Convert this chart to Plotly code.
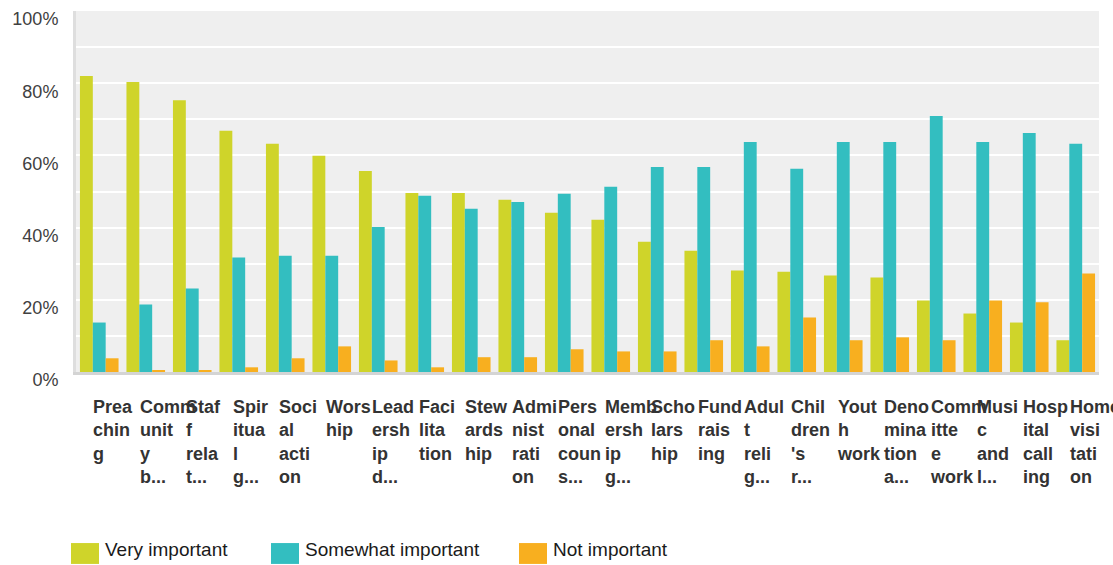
import plotly.graph_objects as go

# Survey topics (as exported, long names truncated)
categories = [
    "Preaching", "Community b...", "Staff relat...", "Spiritual g...",
    "Social action", "Worship", "Leadership d...", "Facilitation",
    "Stewardship", "Administration", "Personal couns...", "Membership g...",
    "Scholarship", "Fundraising", "Adult relig...", "Children's r...",
    "Youth work", "Denomination a...", "Committee work", "Music and l...",
    "Hospital calling", "Home visitation",
]

# Wrapped axis labels (narrow columns, 4 characters per line)
tick_labels = [
    "Prea<br>chin<br>g", "Comm<br>unit<br>y<br>b...", "Staf<br>f<br>rela<br>t...",
    "Spir<br>itua<br>l<br>g...", "Soci<br>al<br>acti<br>on", "Wors<br>hip",
    "Lead<br>ersh<br>ip<br>d...", "Faci<br>lita<br>tion", "Stew<br>ards<br>hip",
    "Admi<br>nist<br>rati<br>on", "Pers<br>onal<br>coun<br>s...",
    "Memb<br>ersh<br>ip<br>g...", "Scho<br>lars<br>hip", "Fund<br>rais<br>ing",
    "Adul<br>t<br>reli<br>g...", "Chil<br>dren<br>'s<br>r...", "Yout<br>h<br>work",
    "Deno<br>mina<br>tion<br>a...", "Comm<br>itte<br>e<br>work",
    "Musi<br>c<br>and<br>l...", "Hosp<br>ital<br>call<br>ing", "Home<br>visi<br>tati<br>on",
]

very_important = [82.0, 80.3, 75.3, 66.8, 63.2, 59.9, 55.7, 49.6, 49.6, 47.7, 44.1,
                  42.2, 36.1, 33.6, 28.1, 27.8, 26.7, 26.2, 19.8, 16.2, 13.7, 8.8]
somewhat_important = [13.7, 18.7, 23.1, 31.7, 32.2, 32.2, 40.2, 48.8, 45.2, 47.1, 49.4,
                      51.3, 56.8, 56.8, 63.7, 56.3, 63.7, 63.7, 70.9, 63.7, 66.2, 63.2]
not_important = [3.8, 0.3, 0.3, 1.3, 3.8, 7.1, 3.2, 1.3, 4.1, 4.1, 6.3,
                 5.7, 5.7, 8.8, 7.1, 15.1, 8.8, 9.6, 8.8, 19.8, 19.3, 27.3]

series = [
    ("Very important", very_important, "#CFD42A"),
    ("Somewhat important", somewhat_important, "#33BEC0"),
    ("Not important", not_important, "#F8AF1F"),
]

FIG_W, FIG_H = 1113, 565
M_L, M_R, M_T, M_B = 76, 14, 9, 193
PLOT_W = FIG_W - M_L - M_R
PLOT_H = FIG_H - M_T - M_B


def paper_x(px):
    return (px - M_L) / PLOT_W


def paper_y(py):
    return (FIG_H - M_B - py) / PLOT_H


fig = go.Figure()
for name, vals, color in series:
    fig.add_trace(go.Bar(
        x=categories,
        y=[v / 100 for v in vals],
        name=name,
        marker=dict(color=color, line=dict(width=0)),
        showlegend=False,
    ))

# Wrapped, left-aligned category labels under each group
annotations = []
for cat, lab in zip(categories, tick_labels):
    annotations.append(dict(
        x=cat, xref="x", y=0, yref="paper",
        xanchor="left", yanchor="top", xshift=-8, yshift=-23,
        text=lab, showarrow=False, align="left",
        font=dict(family="Liberation Sans, Arial", size=18, weight="bold", color="#333333"),
    ))

# Legend row along the bottom
shapes = []
legend_items = [(71, 105), (271, 305), (519, 553)]
for (sx, tx), (name, _, color) in zip(legend_items, series):
    shapes.append(dict(
        type="rect", xref="paper", yref="paper",
        x0=paper_x(sx), x1=paper_x(sx + 28), y0=paper_y(565), y1=paper_y(544),
        fillcolor=color, line=dict(width=0), layer="above",
    ))
    annotations.append(dict(
        x=paper_x(tx - 2), xref="paper", y=paper_y(550), yref="paper",
        xanchor="left", yanchor="middle", text=name, showarrow=False,
        font=dict(family="Liberation Sans, Arial", size=19, color="#1a1a1a"),
    ))

fig.update_layout(
    width=FIG_W, height=FIG_H,
    margin=dict(l=M_L, r=M_R, t=M_T, b=M_B, pad=0),
    paper_bgcolor="white",
    plot_bgcolor="#EFEFEF",
    barmode="group",
    bargap=0.17,
    bargroupgap=0,
    showlegend=False,
    annotations=annotations,
    shapes=shapes,
    font=dict(family="Liberation Sans, Arial", color="#333333"),
)

fig.update_xaxes(
    showticklabels=False, ticks="", showgrid=False,
    showline=True, linecolor="#D4D4D4", linewidth=3,
    range=[-0.5, len(categories) - 0.5],
)

fig.update_yaxes(
    range=[0, 1], dtick=0.2, tickformat=".0%",
    showgrid=True, gridcolor="white", gridwidth=2,
    minor=dict(dtick=0.1, showgrid=True, gridcolor="white", gridwidth=2),
    zeroline=False, ticks="",
    showline=True, linecolor="#DEDEDE", linewidth=3,
    tickfont=dict(family="Liberation Sans, Arial", size=18, color="#404040"),
    ticklabelshift=8, ticklabelstandoff=11, ticklabeloverflow="allow",
)

fig.write_html("out.html")
